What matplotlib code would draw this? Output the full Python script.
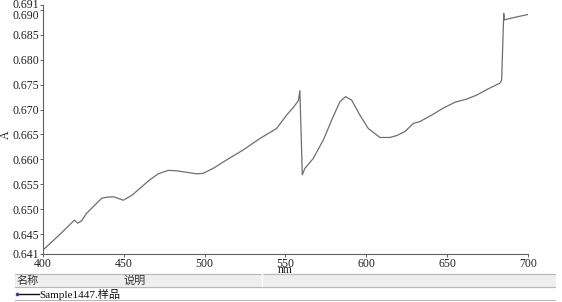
import matplotlib
matplotlib.use("Agg")
import matplotlib.pyplot as plt
import matplotlib.transforms as mtransforms
from matplotlib.lines import Line2D
from matplotlib.patches import Rectangle

plt.rcParams['font.family'] = ['Liberation Serif', 'Noto Sans CJK SC']

# spectrum (nm, absorbance)
wavelength = [400, 405, 410, 415, 419.4, 421.5, 424, 427, 432, 436.3, 439.4,
              443.5, 449.7, 455, 460, 466, 471.3, 477.5, 482.7, 489, 495, 499,
              505.3, 513.6, 523.9, 534.2, 544.5, 550.7, 555, 558.0, 558.9,
              560.4, 562, 567.2, 573.4, 579.5, 583.7, 587.2, 590.9, 596, 601.2,
              608.4, 614.6, 619, 623.9, 629, 633.1, 640, 647.6, 655, 662, 668.2,
              675, 682.6, 683.7, 685.0, 685.3, 686.3, 693, 700]
absorbance = [0.6418, 0.6433, 0.6448, 0.6464, 0.6478, 0.6472, 0.6477, 0.6492,
              0.6508, 0.6522, 0.6524, 0.6525, 0.6518, 0.6528, 0.6542, 0.6559,
              0.6571, 0.6578, 0.6577, 0.6574, 0.6571, 0.6572, 0.6582, 0.6599,
              0.6619, 0.6642, 0.6662, 0.6689, 0.6705, 0.6718, 0.6738, 0.6569,
              0.6582, 0.6602, 0.6639, 0.6686, 0.6716, 0.6726, 0.6719, 0.6689,
              0.6662, 0.6644, 0.6644, 0.6648, 0.6656, 0.6672, 0.6676, 0.6688,
              0.6703, 0.6715, 0.6721, 0.6729, 0.6741, 0.6753, 0.6759, 0.6893,
              0.6880, 0.6881, 0.6886, 0.6891]

xticks = [400, 450, 500, 550, 600, 650, 700]
yticks = [0.641, 0.645, 0.650, 0.655, 0.660, 0.665, 0.670, 0.675, 0.680,
          0.685, 0.690, 0.691]
series_name = "Sample1447.样品"
col_headers = ["名称", "说明"]

W, H = 562, 302
fig = plt.figure(figsize=(W / 100, H / 100), dpi=100)
ax = fig.add_axes([43 / W, 1 - 254 / H, (528 - 43) / W, (254 - 5) / H])

ax.plot(wavelength, absorbance, color='#6e6e6e', lw=0.9)
ax.set_xlim(400, 700)
ax.set_ylim(0.641, 0.691)

for s in ['top', 'right']:
    ax.spines[s].set_visible(False)
for s in ['left', 'bottom']:
    ax.spines[s].set_color('#606060')
    ax.spines[s].set_linewidth(0.8)

ax.set_xticks(xticks)
ax.set_yticks(yticks)
ax.set_yticklabels(['%.3f' % v for v in yticks])
ax.tick_params(length=2, width=0.7, color='#606060', labelsize=8.5,
               labelcolor='#222222', pad=1)

# keep the two top labels apart like the original
lbls = ax.get_yticklabels()
off = mtransforms.ScaledTranslation(0, -5 / 100, fig.dpi_scale_trans)
lbls[-2].set_transform(lbls[-2].get_transform() + off)
off2 = mtransforms.ScaledTranslation(0, 1 / 100, fig.dpi_scale_trans)
lbls[-1].set_transform(lbls[-1].get_transform() + off2)


def fy(py):
    return 1 - py / H


# axis titles
fig.text(285 / W, fy(270), 'nm', fontsize=8.5, color='#222222',
         ha='center', va='center', zorder=5)
fig.text(6 / W, fy(135), 'A', fontsize=8.5, color='#222222', rotation=90,
         ha='center', va='center')

# table under the chart
fig.patches.append(Rectangle((15 / W, fy(287)), (555 - 15) / W, 13.5 / H,
                             transform=fig.transFigure, color='#eeeeee',
                             zorder=0))
for py in [273.5, 287, 300]:
    fig.add_artist(Line2D([15 / W, 555 / W], [fy(py), fy(py)],
                          transform=fig.transFigure, color='#b8b8b8', lw=0.8,
                          zorder=1))
fig.add_artist(Line2D([262 / W, 262 / W], [fy(274), fy(286)],
                      transform=fig.transFigure, color='#ffffff', lw=1))
fig.text(16 / W, fy(280.5), col_headers[0], fontsize=8, va='center',
         color='#333333', family=['Noto Sans CJK SC'])
fig.text(124 / W, fy(280.5), col_headers[1], fontsize=8, va='center',
         color='#333333', family=['Noto Sans CJK SC'])

fig.add_artist(Line2D([18 / W, 39 / W], [fy(294), fy(294)],
                      transform=fig.transFigure, color='#111111', lw=1))
fig.add_artist(Line2D([16.5 / W], [fy(294)], transform=fig.transFigure,
                      marker='o', ms=1.6, color='#2040c0', lw=0))
fig.text(39 / W, fy(294), series_name, fontsize=8, va='center',
         color='#111111')

fig.savefig('out.png', dpi=100)
